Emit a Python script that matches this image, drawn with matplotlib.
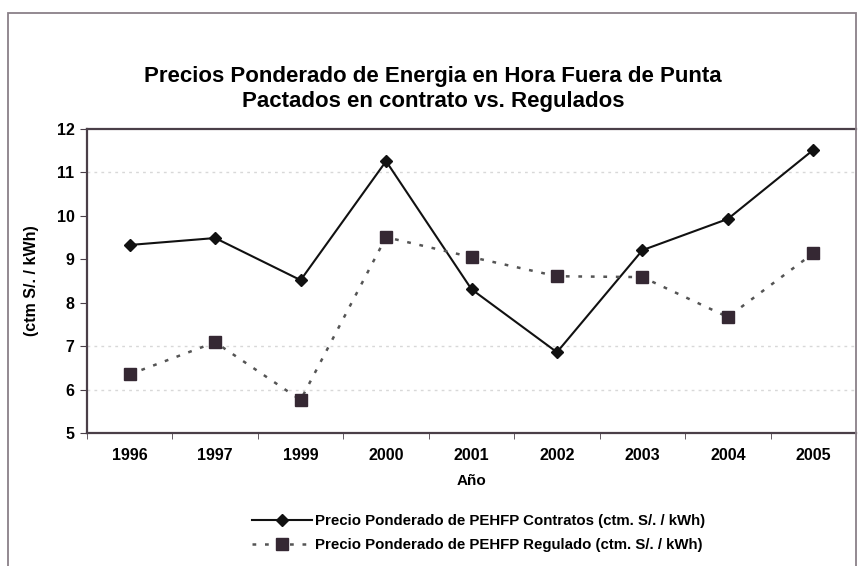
import numpy as np
import matplotlib.pyplot as plt

# Datos por año
anios = ['1996', '1997', '1999', '2000', '2001', '2002', '2003', '2004', '2005']
contratos = [9.33, 9.49, 8.52, 11.26, 8.31, 6.86, 9.21, 9.93, 11.52]
regulado = [6.35, 7.09, 5.76, 9.51, 9.05, 8.61, 8.59, 7.67, 9.14]

plt.rcParams['font.family'] = ['Liberation Sans', 'DejaVu Sans']
plt.rcParams['font.weight'] = 'bold'

fig = plt.figure(figsize=(8.58, 5.66), dpi=100)
ax = fig.add_axes([0.1014, 0.235, 0.8963, 0.537])

x = np.arange(len(anios))
ax.plot(x, contratos, color='#111111', lw=1.5, marker='D', ms=6.5,
        mfc='#111111', mec='#111111',
        label='Precio Ponderado de PEHFP Contratos (ctm. S/. / kWh)')
ax.plot(x, regulado, color='#555555', lw=1.8, ls=(0, (1.5, 3.5)),
        marker='s', ms=8, mfc='#352833', mec='#352833',
        label='Precio Ponderado de PEHFP Regulado (ctm. S/. / kWh)')

# lineas de fondo tenues
for yv in [11, 7, 6]:
    ax.axhline(yv, color='#d8d8d8', lw=1, ls=(0, (2, 3)), zorder=0)

ax.set_xlim(-0.5, len(anios) - 0.5)
ax.set_ylim(5, 12)
ax.set_yticks(range(5, 13))
ax.set_xticks(x)
ax.set_xticklabels(anios)
ax.set_xticks(np.arange(-0.5, len(anios)), minor=True)
ax.tick_params(axis='x', which='major', length=0, pad=11, labelsize=11.5)
ax.tick_params(axis='x', which='minor', length=4, color='#4a3f48')
ax.tick_params(axis='y', length=5, color='#4a3f48', labelsize=11.5, pad=4)

for s in ['left', 'bottom', 'top']:
    ax.spines[s].set_color('#4a3f48')
    ax.spines[s].set_linewidth(1.6)
ax.spines['right'].set_visible(False)

ax.set_xlabel('Año', fontsize=11, fontweight='bold', labelpad=8)
ax.set_ylabel('(ctm S/. / kWh)', fontsize=11.5, fontweight='bold', labelpad=13)

fig.text(0.505, 0.865, 'Precios Ponderado de Energia en Hora Fuera de Punta',
         ha='center', va='center', fontsize=16, fontweight='bold')
fig.text(0.505, 0.82, 'Pactados en contrato vs. Regulados',
         ha='center', va='center', fontsize=16, fontweight='bold')

leg = fig.legend(loc='center', bbox_to_anchor=(0.558, 0.058), frameon=False,
                 fontsize=10.8, handlelength=4.0, labelspacing=0.7, handletextpad=0.2)

# marco exterior
fig.patches.append(plt.Rectangle((8 / 858, -0.01), 848 / 858, 1 - 13 / 566 + 0.01,
                                 transform=fig.transFigure,
                                 fill=False, edgecolor='#8a8088', lw=1.3))

fig.savefig('out.png', dpi=100)
